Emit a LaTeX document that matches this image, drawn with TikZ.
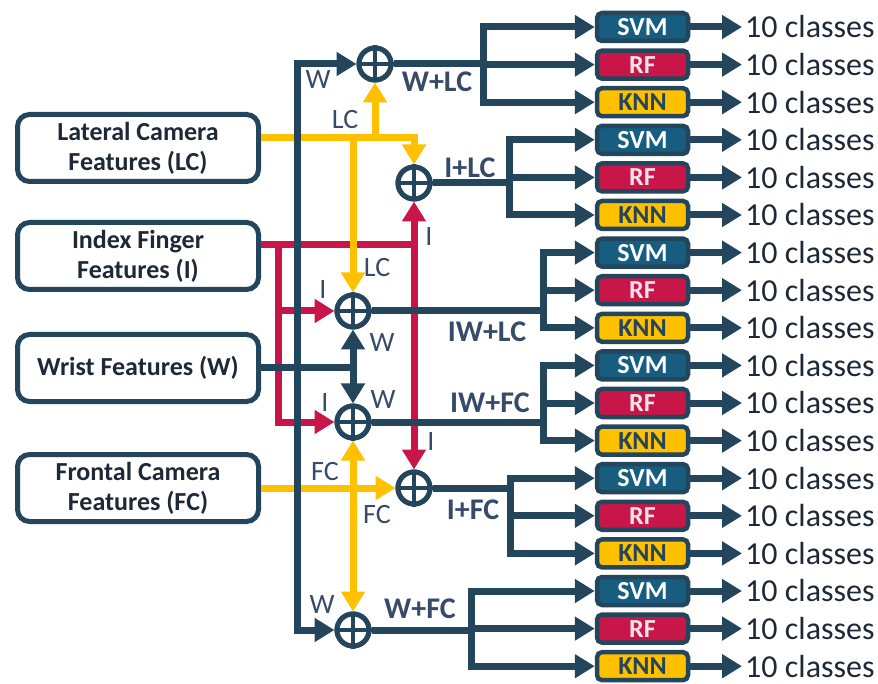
\documentclass[tikz,border=0pt]{standalone}
\usepackage{fontspec}
\setmainfont{Carlito}
\usetikzlibrary{arrows.meta}
\definecolor{navy}{RGB}{35,70,93}
\definecolor{yel}{RGB}{255,192,0}
\definecolor{crim}{RGB}{200,22,72}
\definecolor{svmblue}{RGB}{22,93,128}
\definecolor{dark}{RGB}{30,40,55}
\definecolor{slate}{RGB}{55,75,105}
\definecolor{rftext}{RGB}{242,228,232}
\begin{document}
\begin{tikzpicture}[x=1pt,y=-1pt,
  navyline/.style={draw=navy,line width=7pt},
  redline/.style={draw=crim,line width=7pt},
  yelline/.style={draw=yel,line width=7pt},
  tip/.style={-{Triangle[length=20pt,width=23pt]}},
  dtip/.style={{Triangle[length=20pt,width=23pt]}-{Triangle[length=20pt,width=23pt]}},
  srcbox/.style={draw=navy,line width=5pt,rounded corners=12pt,fill=white,
    minimum width=241pt,minimum height=67pt,align=center,text=dark,
    font=\fontsize{26}{30}\selectfont\bfseries},
  sum/.style={circle,draw=navy,line width=5pt,fill=white,minimum size=32pt,inner sep=0pt},
  clf/.style={draw=navy,line width=4.5pt,rounded corners=5pt,minimum width=91pt,
    minimum height=28pt,inner sep=0pt,font=\fontsize{26}{28}\selectfont\bfseries},
  clfsvm/.style={clf,fill=svmblue,text=white},
  clfrf/.style={clf,fill=crim,text=rftext},
  clfknn/.style={clf,fill=yel,text=navy},
  cls/.style={anchor=west,inner sep=3pt,text=dark,font=\fontsize{32}{34}\selectfont},
  lab/.style={text=slate,inner sep=0pt,font=\fontsize{28}{30}\selectfont},
  blab/.style={text=slate,inner sep=0pt,font=\fontsize{30}{32}\selectfont\bfseries}]
\useasboundingbox (0,0) rectangle (878,684);

% source boxes
\node[srcbox] (LC) at (138,148) {Lateral Camera\\Features (LC)};
\node[srcbox] (I) at (138,256) {Index Finger\\Features (I)};
\node[srcbox] (W) at (138,368) {Wrist Features (W)};
\node[srcbox] (FC) at (138,488) {Frontal Camera\\Features (FC)};

% summation nodes (positions)
\coordinate (p1) at (375,64);
\coordinate (p2) at (414,183);
\coordinate (p3) at (353,311);
\coordinate (p4) at (353,422);
\coordinate (p5) at (414,488);
\coordinate (p6) at (353,630);
\node[sum] (s1) at (p1) {};
\node[sum] (s2) at (p2) {};
\node[sum] (s3) at (p3) {};
\node[sum] (s4) at (p4) {};
\node[sum] (s5) at (p5) {};
\node[sum] (s6) at (p6) {};

\coordinate (ly) at (0,138);
\coordinate (iy) at (0,245);
\coordinate (rv) at (278,0);
\coordinate (wv) at (297,0);

% red (I) lines
\draw[redline] (I.east |- iy) -- (s2 |- iy);
\draw[redline,dtip] (s2.south) -- (s5.north);
\draw[redline,tip] (rv |- iy) -- (rv |- s4.west) -- (s4.west);
\draw[redline,tip] (rv |- s3.west) -- (s3.west);

% yellow lines
\draw[yelline,tip] (LC.east |- ly) -- (s2 |- ly) -- (s2.north);
\draw[yelline,tip] (s1 |- ly) -- (s1.south);
\draw[yelline,tip] (s3 |- ly) -- (s3.north);
\draw[yelline,tip] (FC.east) -- (s5.west);
\draw[yelline,dtip] (s4.south) -- (s6.north);

% navy (W) lines
\draw[navyline] (W.east) -- (s3 |- W.east);
\draw[navyline,dtip] (s3.south) -- (s4.north);
\draw[navyline,tip] (wv |- W.east) -- (wv |- s1.west) -- (s1.west);
\draw[navyline,tip] (wv |- W.east) -- (wv |- s6.west) -- (s6.west);

% redraw summation nodes on top
\foreach \n in {s1,s2,s3,s4,s5,s6}{
  \node[sum] at (\n) {};
  \draw[navy,line width=4.5pt] (\n.north) -- (\n.south) (\n.west) -- (\n.east);
}

% classifiers
\foreach \k in {0,...,17}{
  \pgfmathsetmacro\yy{27+37.6*\k}
  \pgfmathtruncatemacro\m{mod(\k,3)}
  \ifcase\m \def\typ{clfsvm}\def\lab{SVM}\or \def\typ{clfrf}\def\lab{RF}\or \def\typ{clfknn}\def\lab{KNN}\fi
  \node[\typ] (c\k) at (642.5,\yy) {\raisebox{-2pt}{\lab}};
  \node[cls] (t\k) at (742,\yy) {10 classes};
  \draw[navyline,tip] (c\k.east) -- (t\k.west);
}

% branches
\foreach \g/\s/\bx in {0/s1/483,1/s2/509,2/s3/543,3/s4/543,4/s5/510,5/s6/471}{
  \pgfmathtruncatemacro\a{3*\g}
  \pgfmathtruncatemacro\b{3*\g+1}
  \pgfmathtruncatemacro\c{3*\g+2}
  \coordinate (b\g) at (\bx,0);
  \draw[navyline] (\s.east) -- (b\g |- \s.east);
  \draw[navyline,line cap=rect] (b\g |- c\a.west) -- (b\g |- c\c.west);
  \foreach \r in {\a,\b,\c}{
    \draw[navyline,tip] (b\g |- c\r.west) -- (c\r.west);
  }
}

% labels
\node[lab] (lw1) at (318,80) {W};
\node[lab] (llc1) at (345,120) {LC};
\node[blab] (lwlc) at (437,82) {W+LC};
\node[blab] (lilc) at (470,168) {I+LC};
\node[lab] (li1) at (429,237) {I};
\node[lab] (llc2) at (377,268) {LC};
\node[lab] (li2) at (323,290) {I};
\node[lab] (lw2) at (382,343) {W};
\node[blab] (liwlc) at (487,332) {IW+LC};
\node[lab] (lw3) at (383,400) {W};
\node[lab] (li3) at (325,403) {I};
\node[blab] (liwfc) at (490,403) {IW+FC};
\node[lab] (li4) at (431,442) {I};
\node[lab] (lfc1) at (325,472) {FC};
\node[lab] (lfc2) at (377,515) {FC};
\node[blab] (lifc) at (473,510) {I+FC};
\node[lab] (lw4) at (322,605) {W};
\node[blab] (lwfc) at (420,609) {W+FC};
\end{tikzpicture}
\end{document}
